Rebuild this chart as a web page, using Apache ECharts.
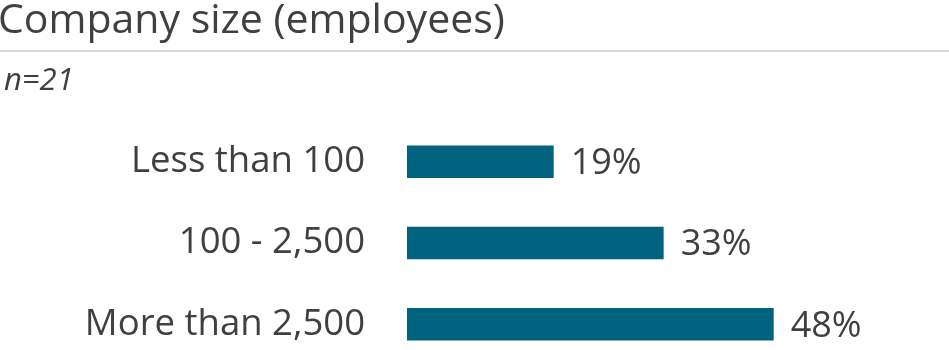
<!DOCTYPE html>
<html>
<head>
<meta charset="utf-8">
<script src="https://cdn.jsdelivr.net/npm/echarts@6/dist/echarts.min.js"></script>
<style>html,body{margin:0;padding:0;background:#fff}#c{width:949px;height:350px}</style>
</head>
<body>
<div id="c"></div>
<script>
const categories = ['Less than 100', '100 - 2,500', 'More than 2,500'];
const shares = [19.05, 33.33, 47.62];
const titleText = 'Company size (employees)';
const sampleText = 'n=21';

const chart = echarts.init(document.getElementById('c'), null, {renderer: 'canvas'});
const textColor = '#404040';
chart.setOption({
  animation: false,
  backgroundColor: '#ffffff',
  title: [
    {text: titleText, left: -2, top: 1, padding: 0,
     textStyle: {fontFamily: 'Open Sans', fontSize: 41, fontWeight: 'normal', color: textColor}},
    {text: sampleText, left: 4, top: 66, padding: 0,
     textStyle: {fontFamily: 'Open Sans', fontSize: 31, fontStyle: 'italic', fontWeight: 'normal', color: textColor}}
  ],
  graphic: [
    {type: 'line', shape: {x1: 0, y1: 51, x2: 949, y2: 51}, style: {stroke: '#d9d9d9', lineWidth: 2}, silent: true}
  ],
  grid: {left: 407, top: 121, bottom: -15, right: -228, containLabel: false, outerBoundsMode: 'none'},
  xAxis: {type: 'value', min: 0, max: 100, show: false},
  yAxis: {
    type: 'category', data: categories, inverse: true,
    axisLine: {show: false}, axisTick: {show: false}, splitLine: {show: false},
    axisLabel: {margin: 42, fontFamily: 'Open Sans', fontSize: 36.5, color: textColor, padding: [3, 0, 0, 0]}
  },
  series: [{
    type: 'bar', data: shares, barWidth: 32.5,
    itemStyle: {color: '#00627f'},
    label: {show: true, position: 'right', distance: 17,
      fontFamily: 'Open Sans', fontSize: 36, color: textColor,
      offset: [0, 2],
      formatter: p => Math.round(p.value) + '%'}
  }]
});
</script>
</body>
</html>
